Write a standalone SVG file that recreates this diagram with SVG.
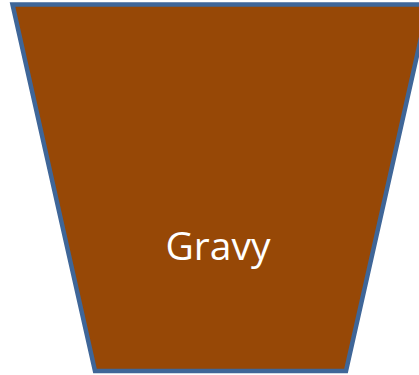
<svg xmlns="http://www.w3.org/2000/svg" width="419" height="375" viewBox="0 0 419 375">
<style>
.shape{fill:#974806;stroke:#3F6698;stroke-width:4.5;stroke-linejoin:miter}
.lbl{font-family:"Open Sans","Liberation Sans",sans-serif;font-size:39px;fill:#FFFFFF;text-anchor:middle}
</style>
<g id="gravy">
<polygon class="shape" points="12.5,4.5 428.5,4.5 346,371 95,371"/>
<text class="lbl" x="218" y="260">Gravy</text>
</g>
<g id="connectors"/>
</svg>
